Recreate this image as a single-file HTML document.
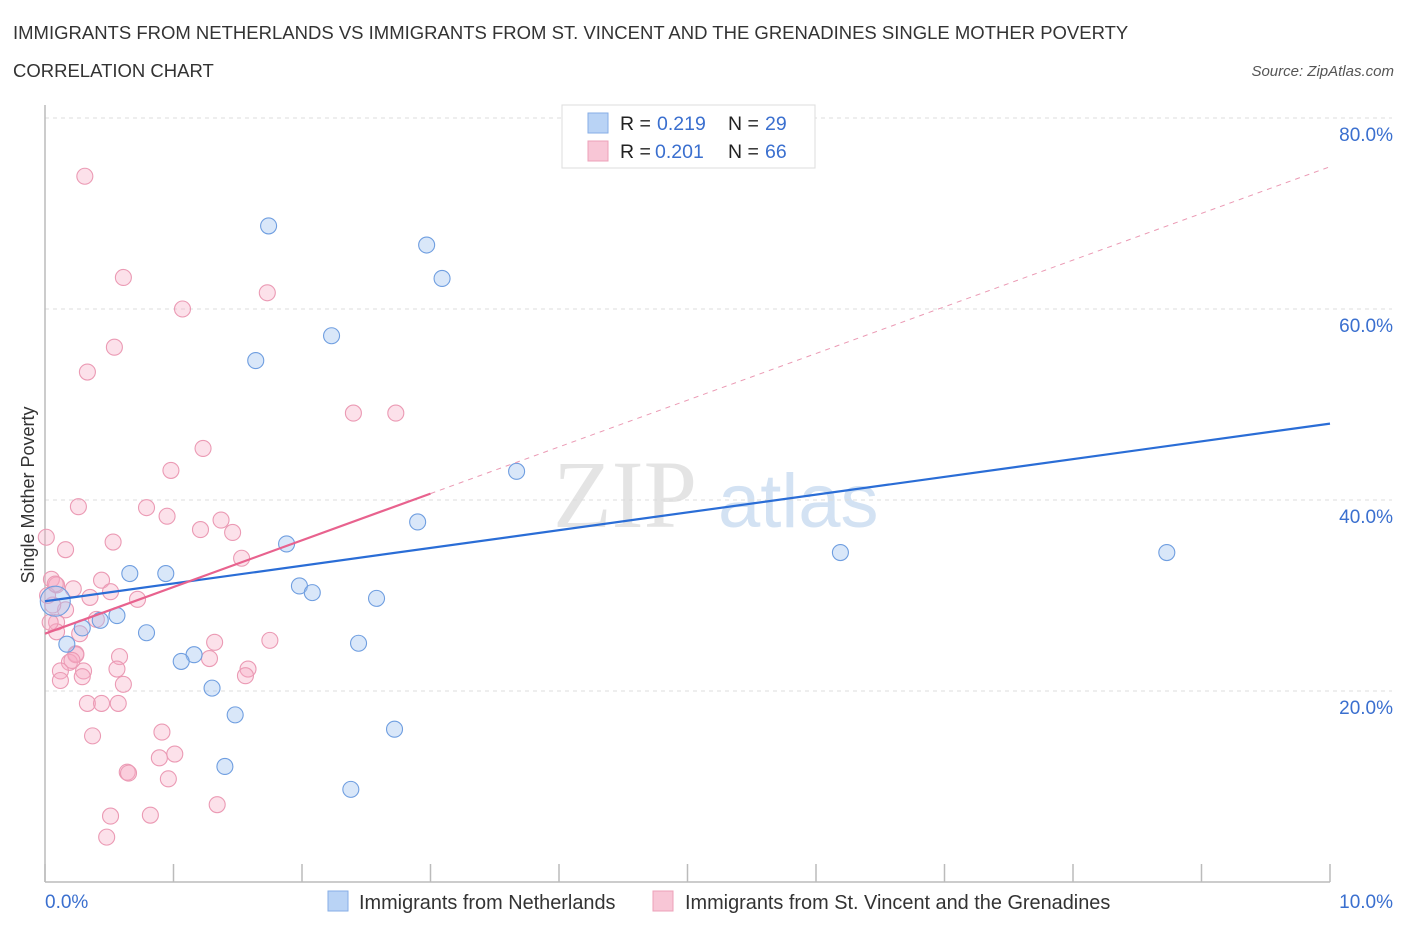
<!DOCTYPE html>
<html><head><meta charset="utf-8"><style>
body{margin:0;background:#fff;font-family:"Liberation Sans",sans-serif;}
</style></head><body>
<svg id="chart" width="1406" height="930" xmlns="http://www.w3.org/2000/svg" style="display:block">
<text x="13" y="39" font-size="18.5" fill="#333">IMMIGRANTS FROM NETHERLANDS VS IMMIGRANTS FROM ST. VINCENT AND THE GRENADINES SINGLE MOTHER POVERTY</text>
<text x="13" y="77" font-size="18.5" fill="#333">CORRELATION CHART</text>
<text x="1394" y="76" font-size="15" fill="#555" font-style="italic" text-anchor="end">Source: ZipAtlas.com</text>
<text transform="translate(34,495) rotate(-90)" font-size="18" fill="#333" text-anchor="middle">Single Mother Poverty</text>
<text x="553" y="527" font-size="96" fill="#e4e4e4" font-family="Liberation Serif">ZIP</text>
<text x="718" y="527" font-size="76" fill="#d3e2f3">atlas</text>
<g id="grid"></g><g id="axes"></g><g id="marks"></g><g id="lines"></g>
<g>
<rect x="562" y="105" width="253" height="63" fill="#fff" stroke="#ddd"/>
<rect x="588" y="113" width="20" height="20" fill="#b9d3f5" stroke="#86aee6"/>
<text x="620" y="130" font-size="19.5" fill="#222">R = </text><text x="657" y="130" font-size="19.5" fill="#3a6fcf">0.219</text>
<text x="728" y="130" font-size="19.5" fill="#222">N = </text><text x="765" y="130" font-size="19.5" fill="#3a6fcf">29</text>
<rect x="588" y="141" width="20" height="20" fill="#f8c6d6" stroke="#eda0b8"/>
<text x="620" y="158" font-size="19.5" fill="#222">R = </text><text x="655" y="158" font-size="19.5" fill="#3a6fcf">0.201</text>
<text x="728" y="158" font-size="19.5" fill="#222">N = </text><text x="765" y="158" font-size="19.5" fill="#3a6fcf">66</text>
</g>
<g>
<rect x="328" y="891" width="20" height="20" fill="#b9d3f5" stroke="#86aee6"/>
<text x="359" y="909" font-size="19.9" fill="#333">Immigrants from Netherlands</text>
<rect x="653" y="891" width="20" height="20" fill="#f8c6d6" stroke="#eda0b8"/>
<text x="685" y="909" font-size="19.9" fill="#333">Immigrants from St. Vincent and the Grenadines</text>
</g>
</svg>
<script>
const xTicks=[0,1,2,3,4,5,6,7,8,9,10];
const yTicks=[20,40,60,80];
const blueX=[1.74,2.97,3.09,1.64,2.23,3.67,2.90,1.88,0.66,0.94,1.98,2.08,2.58,0.56,0.43,0.79,0.29,0.17,2.44,1.16,1.06,1.30,1.48,2.72,1.40,2.38,6.19,8.73,0.08];
const blueY=[68.7,66.7,63.2,54.6,57.2,43.0,37.7,35.4,32.3,32.3,31.0,30.3,29.7,27.9,27.4,26.1,26.6,24.9,25.0,23.8,23.1,20.3,17.5,16.0,12.1,9.7,34.5,34.5,29.4];
const pinkX=[0.31,0.61,1.07,1.73,0.54,0.33,2.40,2.73,1.23,0.98,0.26,0.79,0.95,1.37,1.21,1.46,0.01,0.53,0.16,1.53,0.05,0.09,0.44,0.22,0.35,0.51,0.72,0.16,0.06,0.02,0.09,0.09,0.27,0.40,1.75,1.32,1.28,0.24,0.58,0.19,0.12,0.24,0.30,0.29,1.58,0.56,1.56,0.12,0.61,0.33,0.44,0.57,0.37,0.91,0.89,1.01,0.64,0.65,0.96,1.34,0.51,0.82,0.48,0.04,0.21,0.08];
const pinkY=[73.9,63.3,60.0,61.7,56.0,53.4,49.1,49.1,45.4,43.1,39.3,39.2,38.3,37.9,36.9,36.6,36.1,35.6,34.8,33.9,31.7,31.1,31.6,30.7,29.8,30.4,29.6,28.5,29.0,30.0,27.2,26.2,26.0,27.5,25.3,25.1,23.4,23.9,23.6,23.0,22.1,23.8,22.1,21.5,22.3,22.3,21.6,21.1,20.7,18.7,18.7,18.7,15.3,15.7,13.0,13.4,11.5,11.4,10.8,8.1,6.9,7.0,4.7,27.2,23.2,31.2];
const blueFit=[29.4,48.0];
const pinkFit=[26.0,74.9];
const NS='http://www.w3.org/2000/svg';
const X=v=>45+v*128.5, Y=v=>882-v*9.55;
function mk(t,a,p){const e=document.createElementNS(NS,t);for(const k in a)e.setAttribute(k,a[k]);p.appendChild(e);return e;}
const grid=document.getElementById('grid'),axes=document.getElementById('axes'),marks=document.getElementById('marks'),lines=document.getElementById('lines');
yTicks.forEach(t=>{
 const l=mk('line',{x1:45,x2:1392,y1:Y(t),y2:Y(t),stroke:'#ddd','stroke-dasharray':'4,4'},grid);
 
 
 const tx=mk('text',{x:1393,y:Y(t)+23,'font-size':19,fill:'#3a6fcf','text-anchor':'end'},axes);
 tx.textContent=t.toFixed(1)+'%';
 
 
});
mk('line',{x1:45,x2:1330,y1:882,y2:882,stroke:'#bbb','stroke-width':1.5},axes);
mk('line',{x1:45,x2:45,y1:105,y2:882,stroke:'#bbb','stroke-width':1.5},axes);
xTicks.forEach(t=>{
 const l=mk('line',{x1:X(t),x2:X(t),y1:864,y2:882,stroke:'#bbb','stroke-width':1.5},axes);
 
 
});
[[0,'0.0%','start',45],[10,'10.0%','end',1393]].forEach(([v,s,a,px])=>{
 const tx=mk('text',{x:px,y:908,'font-size':19,fill:'#3a6fcf','text-anchor':a},axes);
 tx.textContent=s;
 
 
});
pinkX.forEach((x,i)=>{
 const c=mk('circle',{cx:X(x),cy:Y(pinkY[i]),r:8,fill:'rgba(246,170,195,0.35)',stroke:'#eb9ab4','stroke-width':1.1},marks);
 
 
});
blueX.forEach((x,i)=>{
 const c=mk('circle',{cx:X(x),cy:Y(blueY[i]),r:(i==blueX.length-1?15:8),fill:'rgba(160,195,240,0.4)',stroke:'#6f9ee0','stroke-width':1.1},marks);
 
 
});
const fy=(f,x)=>f[0]+(f[1]-f[0])*x/10;
let l1=mk('line',{x1:X(0),y1:Y(fy(blueFit,0)),x2:X(10),y2:Y(fy(blueFit,10)),stroke:'#2a6dd6','stroke-width':2.2},lines);


let l2=mk('line',{x1:X(0),y1:Y(fy(pinkFit,0)),x2:X(3),y2:Y(fy(pinkFit,3)),stroke:'#e8628e','stroke-width':2.2},lines);


let l3=mk('line',{x1:X(3),y1:Y(fy(pinkFit,3)),x2:X(10),y2:Y(fy(pinkFit,10)),stroke:'#eb9ab4','stroke-width':1,'stroke-dasharray':'5,5'},lines);


</script>
</body></html>
